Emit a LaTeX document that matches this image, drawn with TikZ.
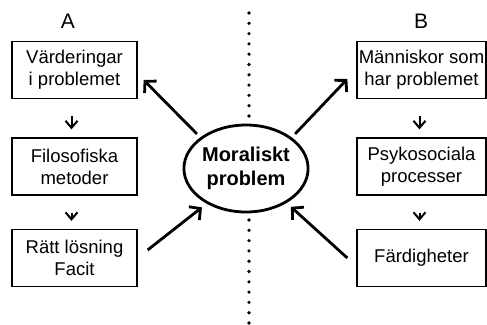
\documentclass[tikz,border=0pt]{standalone}
\usepackage{fontspec}
\setmainfont{Liberation Sans}
\usetikzlibrary{arrows.meta,calc,shapes.geometric}
\begin{document}
\begin{tikzpicture}[x=1pt,y=-1pt,
  box/.style={draw,line width=1.3pt,minimum height=57pt,inner sep=0pt,align=center,font=\fontsize{18.5}{22}\selectfont},
  lbox/.style={box,minimum width=125pt},
  rbox/.style={box,minimum width=129pt},
  colhead/.style={font=\fontsize{21}{24}\selectfont,inner sep=0pt},
  smallarrow/.style={line width=2pt,-{Straight Barb[length=7pt,width=12pt,line width=2pt]},shorten <=17pt,shorten >=8pt},
  bigarrow/.style={line width=2.8pt,-{Straight Barb[length=8pt,width=17pt,line width=2.8pt]}},
  dots/.style={line width=3.6pt,line cap=round,dash pattern=on 0pt off 10.3pt}
]
\useasboundingbox (0,0) rectangle (487,324);

% dotted divider
\draw[dots] (249,13) -- (249,118);
\draw[dots] (249,220) -- (249,326);

% column headings
\node[colhead] (A) at (68,21) {A};
\node[colhead] (B) at (421,21) {B};

% left column
\node[lbox] (l1) at (74.5,70) {Värderingar\\i problemet};
\node[lbox] (l2) at (74.5,166.5) {Filosofiska\\metoder};
\node[lbox] (l3) at (74.5,258) {Rätt lösning\\Facit};

% right column
\node[rbox] (r1) at (421.5,70) {Människor som\\har problemet};
\node[rbox] (r2) at (421.5,166.5) {Psykosociala\\processer};
\node[rbox] (r3) at (421.5,258) {Färdigheter};

% centre
\node[ellipse,draw,line width=2.8pt,minimum width=118pt,minimum height=87pt,inner sep=0pt,align=center,
      font=\bfseries\fontsize{20}{23.5}\selectfont] (m) at (246,168.5) {Moraliskt\\problem};

% small arrows
\draw[smallarrow] ([xshift=-3pt]l1.south) -- ([xshift=-3pt]l2.north);
\draw[smallarrow] ([xshift=-3pt]l2.south) -- ([xshift=-3pt]l3.north);
\draw[smallarrow] ([xshift=-2pt]r1.south) -- ([xshift=-2pt]r2.north);
\draw[smallarrow] ([xshift=-2pt]r2.south) -- ([xshift=-2pt]r3.north);

% big arrows
\draw[bigarrow] ([shift={(-4,-3)}]m.145) -- ([shift={(6,10)}]l1.east);
\draw[bigarrow] ([shift={(4,-3)}]m.35) -- ([shift={(-9,9)}]r1.west);
\draw[bigarrow] ([shift={(10,-8)}]l3.east) -- ([shift={(-4,4)}]m.221);
\draw[bigarrow] ([shift={(-9,0)}]r3.west) -- ([shift={(4,4)}]m.320);
\end{tikzpicture}
\end{document}
